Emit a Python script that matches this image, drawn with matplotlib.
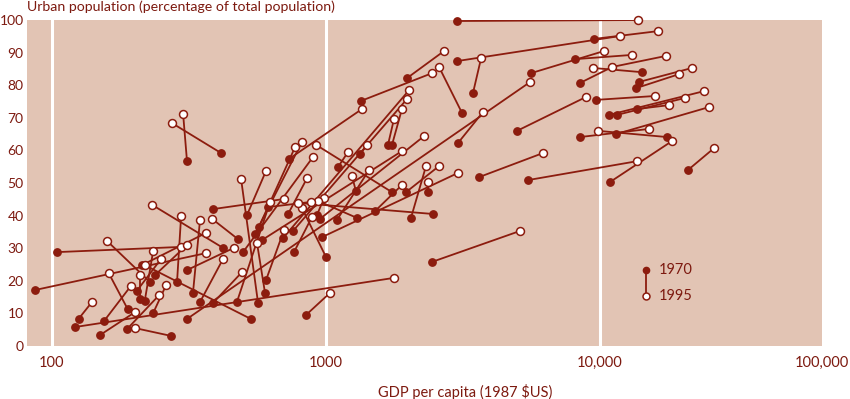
import matplotlib.pyplot as plt

plt.rcParams['font.family'] = ['Lato', 'DejaVu Sans']

# each country: 1970 point -> 1995 point
gdp_1970 = [311, 414, 87, 104, 121, 125, 150, 155, 188, 189,
            272, 234, 213, 228, 204, 209, 218, 238, 286, 311,
            327, 347, 387, 311, 387, 421, 477, 498, 515, 532,
            565, 599, 604, 473, 845, 569, 551, 733, 1741, 727,
            764, 1000, 967, 584, 758, 697, 951, 927, 1097, 1286,
            1106, 1331, 1683, 1741, 2042, 1959, 2356, 1510, 2460, 1297,
            614, 1343, 1977, 3135, 3438, 3033, 3006, 3006, 9508, 5598,
            8110, 8453, 11070, 14230, 13870, 13530, 9661, 4977, 10790, 11530,
            13650, 11430, 8453, 17570, 10870, 20940, 5460, 3616, 2437]
urban_1970 = [56.7, 59.2, 17.2, 28.8, 5.8, 8.3, 3.4, 7.7, 5.2, 11.3,
              3.1, 10.1, 24.8, 19.6, 16.9, 14.4, 13.8, 21.8, 19.6, 23.3,
              16.3, 13.5, 13.2, 8.3, 42.0, 30.1, 32.8, 28.8, 40.2, 8.3,
              13.2, 16.3, 20.2, 13.5, 9.5, 36.5, 34.4, 57.4, 47.2, 40.5,
              28.8, 27.3, 33.4, 32.5, 35.3, 33.1, 39.0, 40.2, 38.7, 47.5,
              54.9, 58.9, 61.7, 61.7, 39.3, 47.2, 47.2, 41.4, 40.5, 39.3,
              42.6, 75.2, 82.2, 71.5, 77.6, 62.3, 99.7, 87.4, 94.2, 83.7,
              88.0, 80.7, 85.6, 84.0, 81.0, 79.1, 75.5, 66.0, 70.9, 70.9,
              72.7, 65.0, 64.1, 64.1, 50.3, 54.0, 50.9, 51.8, 25.8]
gdp_1995 = [301, 274, 365, 296, 1770, 140, 201, 194, 246, 161,
            201, 261, 365, 159, 250, 209, 234, 311, 296, 461,
            347, 421, 494, 5560, 703, 232, 384, 897, 604, 218,
            490, 560, 703, 625, 1034, 771, 817, 1353, 920, 853,
            889, 817, 3033, 1893, 1977, 2010, 2280, 984, 1436, 1244,
            1203, 1413, 1770, 1893, 2317, 2585, 2356, 1893, 791, 935,
            881, 2437, 2697, 2585, 3681, 3741, 13770, 11830, 16290, 10350,
            13090, 11070, 17420, 9425, 21680, 19420, 15880, 8890, 23990, 20420,
            17870, 25000, 15100, 9840, 18330, 26060, 13650, 6194, 5105]
urban_1995 = [71.2, 68.4, 28.5, 30.4, 20.9, 13.5, 10.4, 18.4, 15.6, 22.4,
              5.5, 18.7, 34.7, 32.2, 26.7, 21.8, 29.1, 31.0, 39.9, 30.1,
              38.7, 26.7, 22.7, 81.0, 45.1, 43.3, 39.0, 58.0, 53.7, 24.8,
              51.2, 31.6, 35.6, 44.2, 16.3, 61.0, 62.6, 72.7, 61.7, 51.5,
              39.6, 42.3, 53.1, 59.8, 75.8, 78.5, 64.4, 45.4, 54.0, 52.1,
              59.5, 61.7, 69.6, 72.7, 55.2, 55.2, 50.3, 49.4, 43.9, 44.5,
              44.2, 83.7, 90.5, 85.6, 88.3, 71.8, 100.0, 95.1, 96.6, 90.5,
              89.3, 85.6, 89.0, 85.3, 85.3, 83.4, 76.7, 76.4, 78.2, 76.1,
              73.9, 73.3, 66.6, 66.0, 62.9, 60.7, 56.7, 59.2, 35.3]

years = ['1970', '1995']
grid_at = [100, 1000, 10000]
x_labels = ['100', '1000', '10,000', '100,000']
y_ticks = list(range(0, 101, 10))

red = '#8c1c0e'
text_red = '#7d1a10'
bg = '#e2c4b4'

fig = plt.figure(figsize=(8.5, 3.99), dpi=100)
ax = fig.add_axes([0.0318, 0.1328, 0.9353, 0.8170])
ax.set_facecolor(bg)
ax.set_xscale('log')
xmin, xmax = 81.1, 64570
ax.set_xlim(xmin, xmax)
ax.set_ylim(0, 100)

for g in grid_at:
    ax.axvline(g, color='white', lw=2.2, zorder=1)

for g0, u0, g1, u1 in zip(gdp_1970, urban_1970, gdp_1995, urban_1995):
    ax.plot([g0, g1], [u0, u1], color=red, lw=1.3, zorder=2, solid_capstyle='round')

ax.plot(gdp_1970, urban_1970, 'o', ms=5.3, color=red, mec=red, zorder=3, clip_on=False)
ax.plot(gdp_1995, urban_1995, 'o', ms=5.7, mfc='white', mec=red, mew=1.1, zorder=4, clip_on=False)

# little legend inside the plot
lx, ly0, ly1 = 0.7786, 0.233, 0.153
ax.plot([lx, lx], [ly0, ly1], color=red, lw=1.3, transform=ax.transAxes, zorder=2)
ax.plot([lx], [ly0], 'o', ms=4.5, color=red, transform=ax.transAxes, zorder=3)
ax.plot([lx], [ly1], 'o', ms=5, mfc='white', mec=red, mew=1.1, transform=ax.transAxes, zorder=4)
ax.text(0.795, ly0, years[0], transform=ax.transAxes, va='center', ha='left',
        color=text_red, fontsize=10.5)
ax.text(0.795, ly1, years[1], transform=ax.transAxes, va='center', ha='left',
        color=text_red, fontsize=10.5)

ax.set_xticks(grid_at + [xmax])
ax.set_xticklabels(x_labels)
ax.minorticks_off()
ax.set_yticks(y_ticks)
ax.tick_params(length=0, colors=text_red, labelsize=10.5)
ax.tick_params(axis='x', pad=7)
ax.tick_params(axis='y', pad=2.5, labelsize=10)
for s in ax.spines.values():
    s.set_visible(False)

fig.text(0.0318, 0.983, 'Urban population (percentage of total population)',
         ha='left', va='center', color=text_red, fontsize=10.2)
fig.text(0.547, 0.018, 'GDP per capita (1987 $US)', ha='center', va='center',
         color=text_red, fontsize=10.5)

fig.savefig('out.png', dpi=100)
